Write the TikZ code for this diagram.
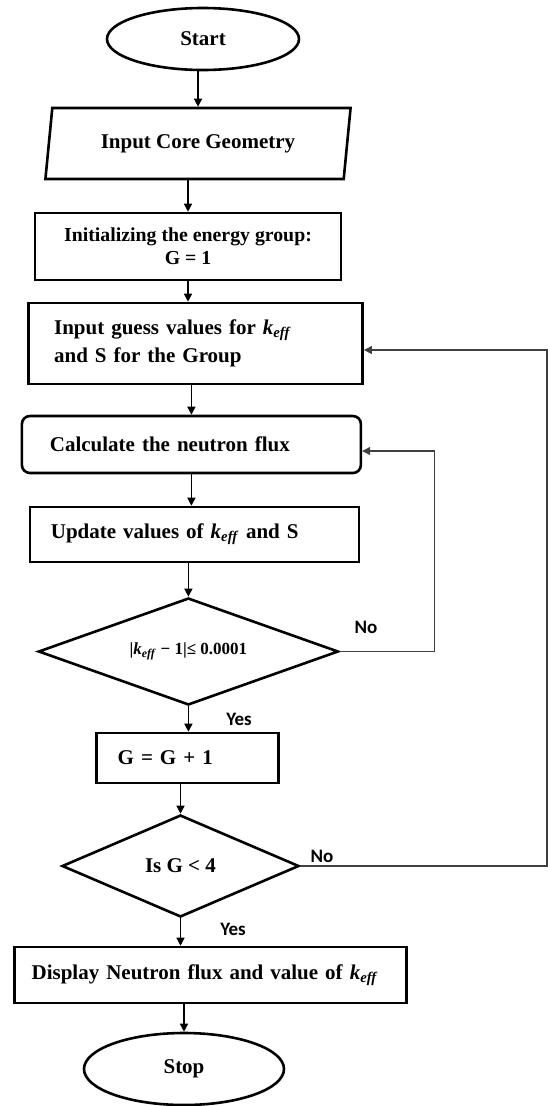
\documentclass[tikz,border=0pt]{standalone}
\usepackage{amsmath}
\usepackage{fontspec}
\setmainfont{Liberation Serif}
\newfontfamily\yesnofont{Carlito}
\usepackage{tikz}
\usetikzlibrary{arrows.meta, shapes.geometric, calc}
\newcommand{\keff}{\textit{k}\textsubscript{\textit{eff}}}

\begin{document}
\begin{tikzpicture}[
  x=1pt, y=1pt,
  every node/.style={font=\fontsize{21}{28}\selectfont\bfseries},
  term/.style={draw, ellipse, line width=2.6pt, inner sep=0pt},
  io/.style={draw, trapezium, trapezium left angle=76, trapezium right angle=104,
    trapezium stretches=true, line width=2.6pt, inner sep=0pt},
  proc/.style={draw, rectangle, line width=2.6pt, inner ysep=0pt, align=left},
  cond/.style={draw, diamond, line width=2.6pt, inner sep=0pt},
  flow/.style={-{Triangle[length=8pt, width=8pt]}, line width=1.4pt},
  back/.style={-{Triangle[length=8pt, width=8pt]}, line width=1.1pt, black!75},
  lbl/.style={font=\yesnofont\fontsize{19}{22}\selectfont\bfseries},
]
  \useasboundingbox (0,0) rectangle (548,-1106);

  % Main column
  \node[term, minimum width=192pt, minimum height=62pt] (start) at (203,-39) {Start};
  \node[io, minimum width=306pt, minimum height=71pt] (geom) at (198,-143.5) {Input Core Geometry};
  \node[proc, align=center, minimum width=306pt, minimum height=67pt,
    font=\fontsize{19.8}{23}\selectfont\bfseries] (init) at (188,-246.5)
    {Initializing the energy group:\\ G = 1};
  \node[proc, text width=283pt, inner xsep=25.5pt, minimum height=81pt] (guess) at (195.6,-343.5)
    {Input guess values for \keff\\ and S for the Group};
  \node[proc, rounded corners=8pt, text width=283pt, inner xsep=28pt, minimum height=57pt] (calc)
    at (191.4,-444.5) {Calculate the neutron flux};
  \node[proc, text width=287pt, inner xsep=21pt, minimum height=55pt] (update) at (194.4,-534.5)
    {Update values of \keff{} and S};
  \node[cond, aspect=2.8, minimum width=300pt, minimum height=107pt,
    font=\fontsize{17}{20}\selectfont\bfseries] (conv) at (188.4,-651.5)
    {|\keff{} − 1|≤ 0.0001};
  \node[proc, text width=140pt, inner xsep=21pt, minimum height=50pt] (next) at (187.7,-758) {G = G + 1};
  \node[cond, aspect=2.3, minimum width=237pt, minimum height=102pt] (more) at (180.5,-866) {Is G < 4};
  \node[proc, text width=358pt, inner xsep=17pt, minimum height=56pt] (disp) at (210.6,-975)
    {Display Neutron flux and value of \keff};
  \node[term, minimum width=200pt, minimum height=72pt] (stop) at (184,-1069) {Stop};

  % Downward arrows
  \draw[flow] (geom.north |- start.south) -- (geom.north);
  \draw[flow] (init.north |- geom.south) -- (init.north);
  \draw[flow] (init.south) -- (init.south |- guess.north);
  \draw[flow] (calc.north |- guess.south) -- (calc.north);
  \draw[flow] (calc.south) -- (calc.south |- update.north);
  \draw[flow] (conv.north |- update.south) -- (conv.north);
  \draw[flow] (conv.south) -- (conv.south |- next.north);
  \draw[flow] (more.north |- next.south) -- (more.north);
  \draw[flow] (more.south) -- (more.south |- disp.north);
  \draw[flow] (stop.north |- disp.south) -- (stop.north);

  % Feedback loops
  \coordinate (back1) at (434.5,-451);
  \coordinate (back2) at (547,-350);
  \draw[back] (conv.east) -| (back1) -- (calc.east |- back1);
  \draw[back] (more.east) -| (back2) -- (guess.east |- back2);

  % Yes / No labels
  \node[lbl] (no1)  at (366,-627) {No};
  \node[lbl] (yes1) at (239,-719) {Yes};
  \node[lbl] (no2)  at (322,-856) {No};
  \node[lbl] (yes2) at (233,-929) {Yes};
\end{tikzpicture}
\end{document}
